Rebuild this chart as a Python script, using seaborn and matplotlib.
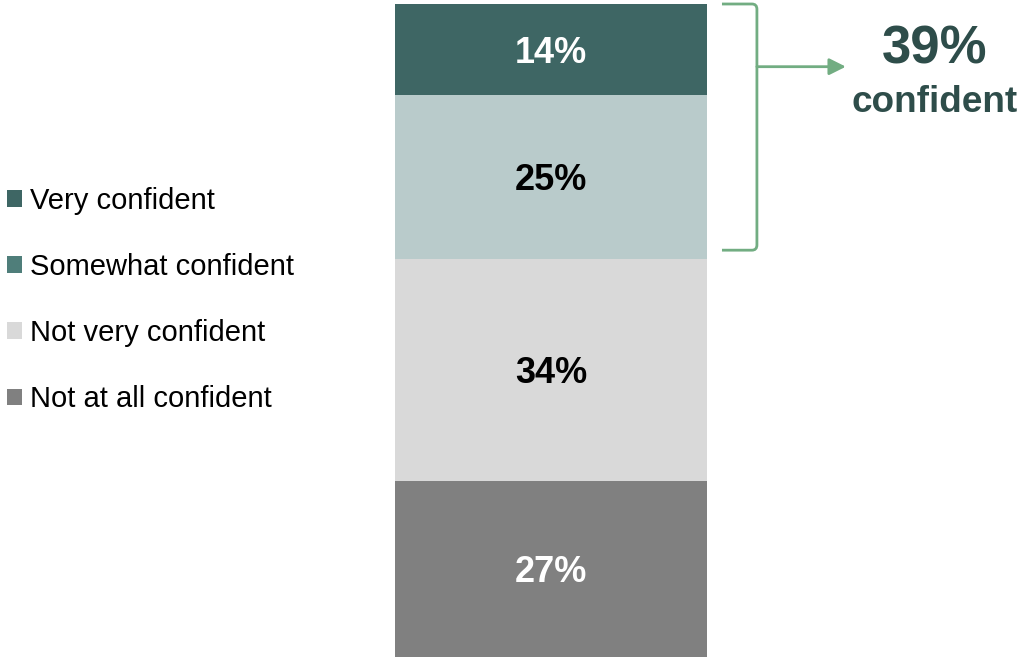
import matplotlib
matplotlib.use("Agg")
import matplotlib.pyplot as plt
from matplotlib.patches import Patch, PathPatch
from matplotlib.path import Path
import seaborn as sns

# Survey shares, listed from the top of the stack downward
categories = ["Very confident", "Somewhat confident", "Not very confident", "Not at all confident"]
shares = [14, 25, 34, 27]
confident_total = 39

bar_colors = ["#3e6664", "#b9cbcb", "#d9d9d9", "#808080"]
legend_colors = ["#3e6664", "#4f7e7a", "#d9d9d9", "#808080"]
label_colors = ["white", "black", "black", "white"]

sns.set_style("white")
plt.rcParams["font.family"] = ["Liberation Sans", "DejaVu Sans"]

W, H = 1025, 659
fig = plt.figure(figsize=(W / 100, H / 100), dpi=100)
ax = fig.add_axes([395 / W, 2 / H, 312 / W, 653 / H])

label_size = 26
cap = 0.716 * label_size

# Stack from the bottom category up
bottom = 0
tops = {}
for cat, val, col, lcol in reversed(list(zip(categories, shares, bar_colors, label_colors))):
    sns.barplot(x=[0], y=[val], bottom=bottom, color=col, width=1.0,
                saturation=1, ax=ax, edgecolor="none", linewidth=0)
    ax.annotate(f"{val}%", xy=(0, bottom + val / 2), xytext=(0, -cap / 2),
                textcoords="offset points", ha="center", va="baseline",
                fontsize=label_size, fontweight="bold", color=lcol)
    tops[cat] = (bottom, bottom + val)
    bottom += val

ax.set_xlim(-0.5, 0.5)
ax.set_ylim(0, 100)
ax.axis("off")

# Bracket spanning the two "confident" segments, with an arrow to the total
green = "#72ad82"
y_top = tops["Very confident"][1]
y_bot = tops["Somewhat confident"][0] + 1.3
x0, x1 = 0.548, 0.660
rx, ry = 0.016, 0.8
verts = [(x0, y_top), (x1 - rx, y_top), (x1, y_top), (x1, y_top - ry),
         (x1, y_bot + ry), (x1, y_bot), (x1 - rx, y_bot), (x0, y_bot)]
codes = [Path.MOVETO, Path.LINETO, Path.CURVE3, Path.CURVE3,
         Path.LINETO, Path.CURVE3, Path.CURVE3, Path.LINETO]
ax.add_patch(PathPatch(Path(verts, codes), facecolor="none", edgecolor=green,
                       linewidth=2, clip_on=False))
y_arrow = 90.4
ax.annotate("", xy=(0.945, y_arrow), xytext=(x1, y_arrow),
            xycoords="data", textcoords="data", annotation_clip=False,
            arrowprops=dict(arrowstyle="-|>,head_length=1.0,head_width=0.5",
                            color=green, lw=2, shrinkA=0, shrinkB=0))

fig.text(935 / W, 1 - 63 / H, f"{confident_total}%", ha="center", va="baseline",
         fontsize=38, fontweight="bold", color="#2e4d4a")
fig.text(935 / W, 1 - 112 / H, "confident", ha="center", va="baseline",
         fontsize=26.6, fontweight="bold", color="#2e4d4a")

handles = [Patch(facecolor=c, edgecolor="none", label=l)
           for c, l in zip(legend_colors, categories)]
fig.legend(handles=handles, loc="center left", bbox_to_anchor=(7 / W, 1 - 300 / H),
           frameon=False, fontsize=21, handlelength=0.5, handleheight=0.5,
           handletextpad=0.3, labelspacing=1.31, borderpad=0, borderaxespad=0,
           labelcolor="black")

fig.savefig("out.png", dpi=100)
